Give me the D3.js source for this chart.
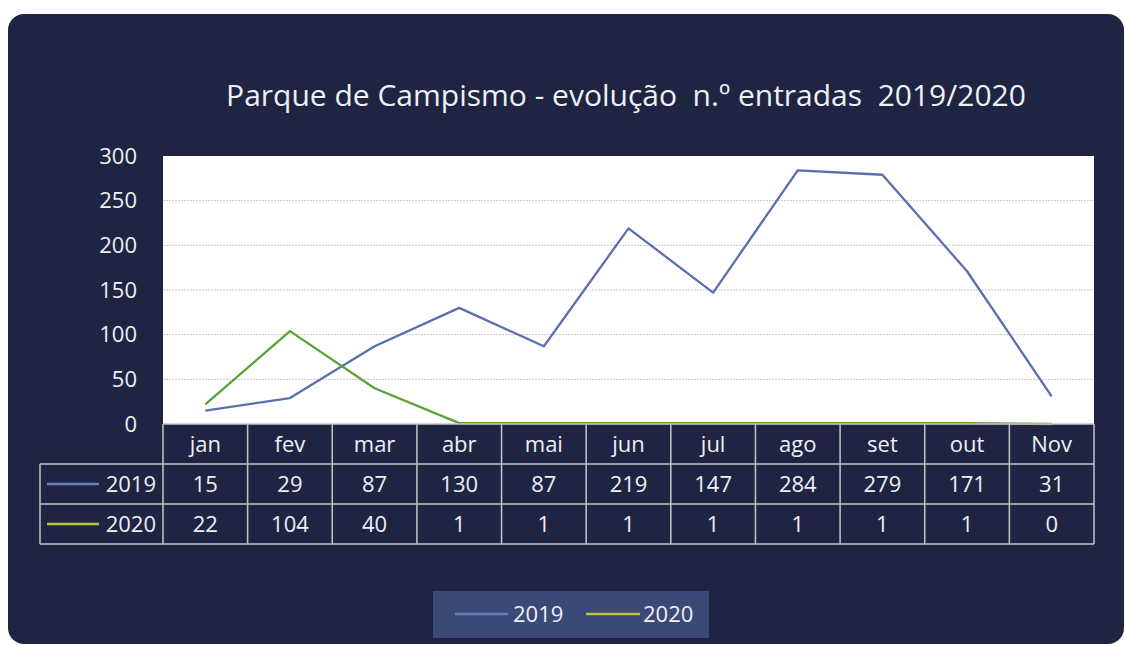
<!DOCTYPE html>
<html lang="pt">
<head>
<meta charset="UTF-8">
<title>Parque de Campismo - evolução n.º entradas 2019/2020</title>
<script src="https://d3js.org/d3.v7.min.js"></script>
<style>
  html, body { margin: 0; padding: 0; background: #fff; }
  svg { display: block; font-family: "Open Sans", "Noto Sans", sans-serif; }
</style>
</head>
<body>
<svg id="chart" width="1125" height="646"></svg>
<script>
// Data
const months = ['jan','fev','mar','abr','mai','jun','jul','ago','set','out','Nov'];
const values2019 = [15, 29, 87, 130, 87, 219, 147, 284, 279, 171, 31];
const values2020 = [22, 104, 40, 1, 1, 1, 1, 1, 1, 1, 0];
const seriesNames = ['2019', '2020'];
const yTicks = [0, 50, 100, 150, 200, 250, 300];

const series = [
  { name: seriesNames[0], values: values2019, color: '#5b6fae', key: '#6a7fb8' },
  { name: seriesNames[1], values: values2020, color: '#58a334', key: '#bcc43a' }
];

const plot = { left: 163, right: 1094, top: 156, bottom: 424 };
const rowH = 40;
const tableLeft = 40;
const fs = 22;
const textColor = '#eef0f6';

const svg = d3.select('#chart');

// dark card
svg.append('rect')
  .attr('x', 8).attr('y', 14)
  .attr('width', 1116).attr('height', 630)
  .attr('rx', 16)
  .attr('fill', '#1e2442');

// title
svg.append('text')
  .attr('x', 626).attr('y', 106)
  .attr('text-anchor', 'middle')
  .attr('fill', textColor)
  .attr('font-size', 30)
  .style('white-space', 'pre')
  .text('Parque de Campismo - evolução  n.º entradas  2019/2020');

// scales
const x = d3.scaleBand().domain(months).range([plot.left, plot.right]);
const y = d3.scaleLinear().domain([0, 300]).range([plot.bottom, plot.top]);

// plot area
svg.append('rect')
  .attr('x', plot.left).attr('y', plot.top)
  .attr('width', plot.right - plot.left).attr('height', plot.bottom - plot.top)
  .attr('fill', '#ffffff');

// gridlines
svg.append('g')
  .selectAll('line')
  .data(yTicks.filter(d => d > 0 && d < 300))
  .join('line')
  .attr('x1', plot.left).attr('x2', plot.right)
  .attr('y1', d => y(d)).attr('y2', d => y(d))
  .attr('stroke', '#c9c9c9')
  .attr('stroke-width', 1)
  .attr('stroke-dasharray', '2,1');

// y axis
const yAxis = d3.axisLeft(y).tickValues(yTicks).tickSize(0).tickPadding(0);
const yg = svg.append('g')
  .attr('transform', `translate(${plot.left - 26},0)`)
  .call(yAxis);
yg.select('.domain').remove();
yg.selectAll('text')
  .attr('fill', textColor)
  .attr('font-size', fs)
  .attr('font-family', '"Open Sans", sans-serif');

// lines
const line = d3.line()
  .x((d, i) => x(months[i]) + x.bandwidth() / 2)
  .y(d => y(d));

svg.append('g')
  .selectAll('path')
  .data(series)
  .join('path')
  .attr('fill', 'none')
  .attr('stroke', d => d.color)
  .attr('stroke-width', 2.3)
  .attr('stroke-linejoin', 'round')
  .attr('d', d => line(d.values));

// data table
const tbl = svg.append('g');
const gridColor = '#c9c2c9';
const tableBottom = plot.bottom + rowH * 3;

// header cells
tbl.selectAll('text.month')
  .data(months)
  .join('text')
  .attr('class', 'month')
  .attr('x', d => x(d) + x.bandwidth() / 2)
  .attr('y', plot.bottom + rowH / 2)
  .attr('dy', '0.35em')
  .attr('text-anchor', 'middle')
  .attr('fill', textColor)
  .attr('font-size', fs)
  .text(d => d);

// value rows
series.forEach((s, r) => {
  const cy = plot.bottom + rowH * (r + 1) + rowH / 2;
  tbl.append('g')
    .selectAll('text')
    .data(s.values)
    .join('text')
    .attr('x', (d, i) => x(months[i]) + x.bandwidth() / 2)
    .attr('y', cy)
    .attr('dy', '0.35em')
    .attr('text-anchor', 'middle')
    .attr('fill', textColor)
    .attr('font-size', fs)
    .text(d => d);
  tbl.append('line')
    .attr('x1', 47).attr('x2', 99)
    .attr('y1', cy).attr('y2', cy)
    .attr('stroke', s.key)
    .attr('stroke-width', 2.5);
  tbl.append('text')
    .attr('x', 156).attr('y', cy)
    .attr('dy', '0.35em')
    .attr('text-anchor', 'end')
    .attr('fill', textColor)
    .attr('font-size', fs)
    .text(s.name);
});

// table grid
const hLines = [
  [plot.left, plot.right, plot.bottom],
  [tableLeft, plot.right, plot.bottom + rowH],
  [tableLeft, plot.right, plot.bottom + rowH * 2],
  [tableLeft, plot.right, tableBottom]
];
tbl.selectAll('line.h')
  .data(hLines)
  .join('line')
  .attr('class', 'h')
  .attr('x1', d => d[0]).attr('x2', d => d[1])
  .attr('y1', d => d[2]).attr('y2', d => d[2])
  .attr('stroke', gridColor).attr('stroke-width', 1.5);

const vEdges = months.map(m => x(m)).concat([plot.right]);
tbl.selectAll('line.v')
  .data(vEdges)
  .join('line')
  .attr('class', 'v')
  .attr('x1', d => d).attr('x2', d => d)
  .attr('y1', plot.bottom).attr('y2', tableBottom)
  .attr('stroke', gridColor).attr('stroke-width', 1.5);
tbl.append('line')
  .attr('x1', tableLeft).attr('x2', tableLeft)
  .attr('y1', plot.bottom + rowH).attr('y2', tableBottom)
  .attr('stroke', gridColor).attr('stroke-width', 1.5);

// bottom legend
const lg = svg.append('g');
lg.append('rect')
  .attr('x', 433).attr('y', 591)
  .attr('width', 276).attr('height', 47)
  .attr('fill', '#3b4977');
const legendPos = [{ x1: 455, x2: 508, tx: 513 }, { x1: 586, x2: 640, tx: 643 }];
series.forEach((s, i) => {
  const p = legendPos[i];
  lg.append('line')
    .attr('x1', p.x1).attr('x2', p.x2)
    .attr('y1', 614).attr('y2', 614)
    .attr('stroke', s.key).attr('stroke-width', 2.5);
  lg.append('text')
    .attr('x', p.tx).attr('y', 614)
    .attr('dy', '0.35em')
    .attr('fill', textColor)
    .attr('font-size', fs)
    .text(s.name);
});
</script>
</body>
</html>
